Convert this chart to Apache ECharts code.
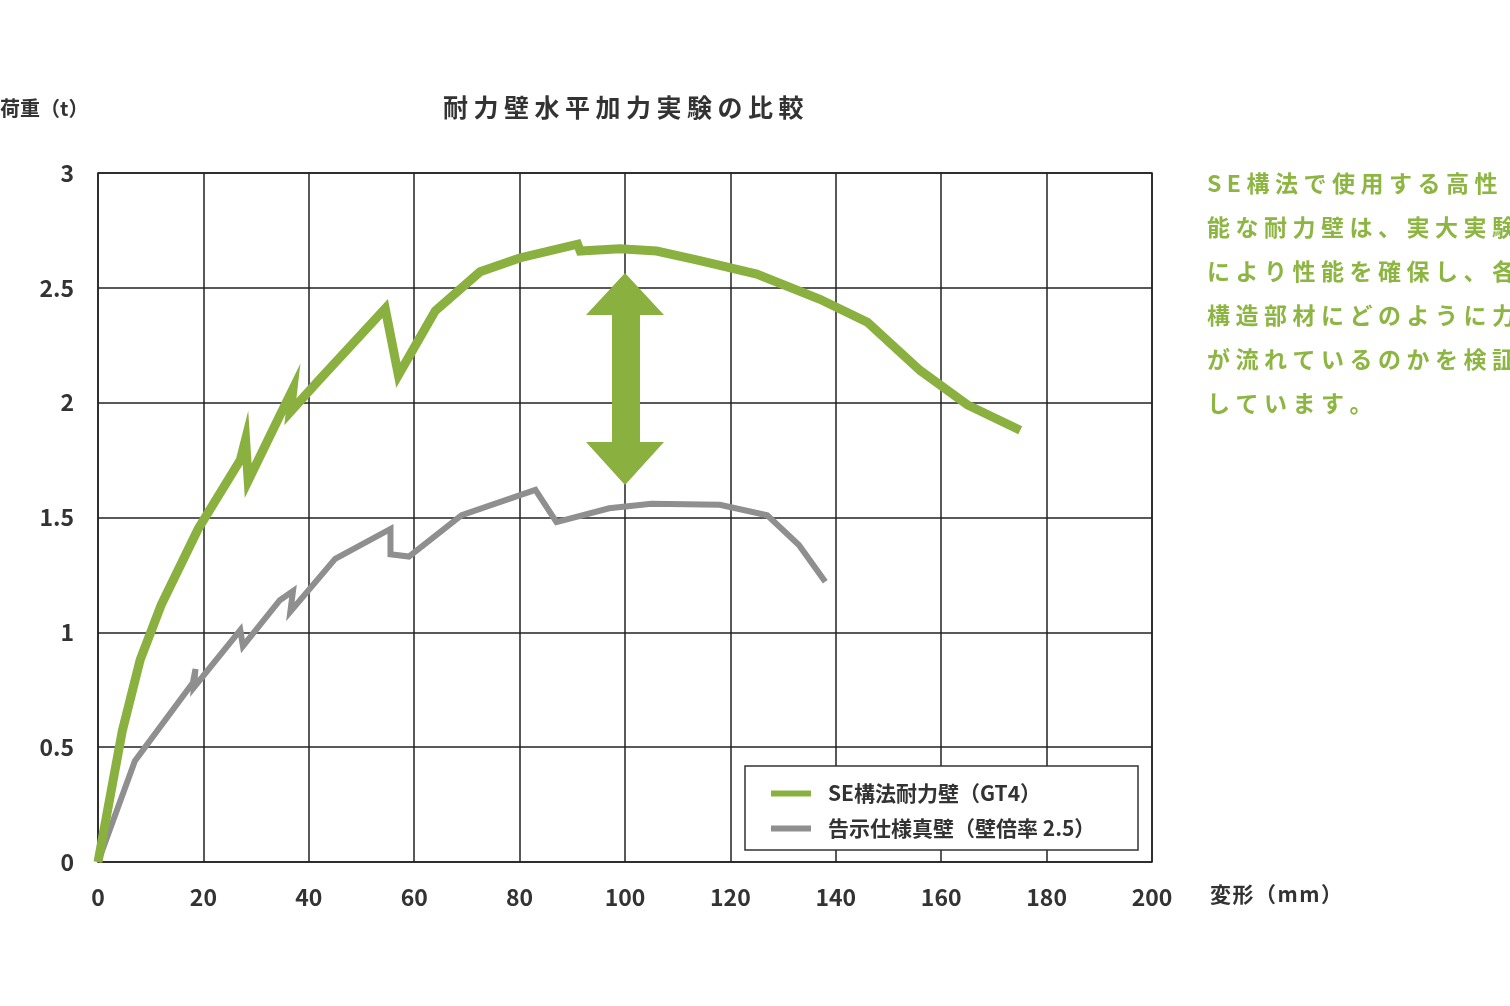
<!DOCTYPE html>
<html><head><meta charset="utf-8">
<script src="https://cdn.jsdelivr.net/npm/echarts@6/dist/echarts.min.js"></script>
<style>html,body{margin:0;padding:0;background:#fff}#c{width:1510px;height:1006px}</style>
</head><body><div id="c"></div>
<script>
const seName = 'SE構法耐力壁（GT4）';
const kokujiName = '告示仕様真壁（壁倍率 2.5）';
const seData = [[0,0],[4.6,0.57],[8,0.88],[12,1.12],[19,1.45],[27,1.75],[28,1.84],[28.5,1.66],[34,1.92],[37,2.06],[36.5,1.96],[42,2.10],[54.5,2.41],[57,2.12],[64,2.40],[72.5,2.57],[80,2.63],[91,2.69],[91.5,2.66],[99,2.67],[106,2.66],[114,2.62],[125,2.56],[137,2.45],[146,2.35],[156,2.14],[165,1.99],[175,1.88]];
const kokujiData = [[0,0],[7,0.44],[18,0.78],[18.5,0.84],[18.2,0.76],[27,1.01],[27.5,0.94],[34.5,1.14],[37,1.18],[36.5,1.09],[45,1.32],[55.5,1.45],[55.5,1.34],[59,1.33],[69,1.51],[83,1.62],[87,1.48],[97,1.54],[105,1.56],[118,1.555],[127,1.51],[133,1.38],[138,1.22]];
const noteLines = ['SE構法で使用する高性','能な耐力壁は、実大実験','により性能を確保し、各','構造部材にどのように力','が流れているのかを検証','しています。'];
const GREEN = '#8ab140', GRAY = '#8f8f8f';
const font = '"Noto Sans CJK JP", "Noto Sans", sans-serif';
const chart = echarts.init(document.getElementById('c'));
const graphic = [
  {type:'polygon', shape:{points:[[625,273],[664,315],[640,315],[640,442],[664,442],[625,485],[586,442],[612,442],[612,315],[586,315]]}, style:{fill:GREEN}, z:5},
  {type:'rect', shape:{x:745,y:766,width:393,height:84}, style:{fill:'#fff', stroke:'#333', lineWidth:1.5}, z:4}
];
function spaced(text, x, y, size, fill, step){
  const ctx = document.createElement('canvas').getContext('2d');
  ctx.font = 'bold '+size+'px '+font;
  let cx = x;
  for (const ch of text){
    graphic.push({type:'text', left:cx, top:y, style:{text:ch, font:'bold '+size+'px '+font, fill}});
    cx += ctx.measureText(ch).width + step;
  }
}
spaced('荷重（t）', 0, 98, 20, '#333', 0);
spaced('耐力壁水平加力実験の比較', 443, 95, 25, '#333', 5.5);
spaced('変形（mm）', 1210, 884, 21, '#333', 1.5);
noteLines.forEach((t,i)=>spaced(t, 1207, 172+i*44, 23, '#8db542', 5.5));
chart.setOption({
  animation:false,
  graphic,
  grid:{left:98, right:358, top:173, bottom:144, show:true, borderColor:'#222', borderWidth:1.5},
  legend:{orient:'vertical', left:766, top:778, itemWidth:40, itemHeight:6, itemGap:14, icon:'rect', z:6,
    textStyle:{fontSize:21, fontWeight:'bold', color:'#333', fontFamily:font, padding:[0,0,0,12]},
    data:[seName, kokujiName]},
  xAxis:{type:'value', min:0, max:200, interval:20, axisLine:{show:false}, axisTick:{show:false},
    splitLine:{lineStyle:{color:'#222', width:1.5}},
    axisLabel:{fontSize:23, fontWeight:'bold', color:'#333', margin:24, fontFamily:font}},
  yAxis:{type:'value', min:0, max:3, interval:0.5, axisLine:{show:false}, axisTick:{show:false},
    splitLine:{lineStyle:{color:'#222', width:1.5}},
    axisLabel:{fontSize:23, fontWeight:'bold', color:'#333', margin:24, fontFamily:font}},
  series:[
    {name:seName, type:'line', data:seData, symbol:'none', lineStyle:{color:GREEN, width:9, join:'miter'}, itemStyle:{color:GREEN}, z:3},
    {name:kokujiName, type:'line', data:kokujiData, symbol:'none', lineStyle:{color:GRAY, width:6, join:'miter'}, itemStyle:{color:GRAY}, z:2}
  ]
});
</script></body></html>
